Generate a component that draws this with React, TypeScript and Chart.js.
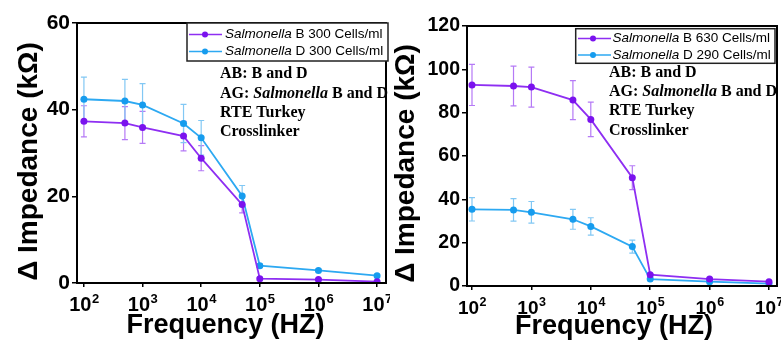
import { useEffect, useRef } from 'react';
import { Chart, registerables } from 'chart.js';
Chart.register(...registerables);

// ---------- data ----------
const frequencies = [100, 500, 1000, 5000, 10000, 50000, 100000, 1000000, 10000000];
const decadeExponents = [2, 3, 4, 5, 6, 7];

const leftYTicksMax = 60;
const leftB = [37.3, 36.9, 35.9, 33.9, 28.8, 18.1, 1.0, 0.8, 0.3];
const leftBErr = [3.6, 3.8, 3.7, 3.4, 2.9, 1.9, 0.3, 0.2, 0.2];
const leftD = [42.4, 42.0, 41.1, 36.8, 33.5, 20.1, 4.0, 2.9, 1.7];
const leftDErr = [5.1, 5.0, 4.9, 4.4, 4.0, 2.4, 0.4, 0.3, 0.3];
const leftLegend = [
  ['Salmonella', ' B 300 Cells/ml'],
  ['Salmonella', ' D 300 Cells/ml'],
];

const rightYTicksMax = 120;
const rightB = [92.8, 92.3, 91.8, 85.8, 76.9, 50.0, 5.2, 3.2, 2.0];
const rightBErr = [9.5, 9.2, 9.2, 9.0, 8.0, 5.5, 0.5, 0.4, 0.3];
const rightD = [35.4, 35.1, 34.0, 30.8, 27.5, 18.2, 3.2, 2.0, 1.1];
const rightDErr = [5.4, 5.2, 5.0, 4.6, 4.0, 3.0, 0.5, 0.3, 0.2];
const rightLegend = [
  ['Salmonella', ' B 630 Cells/ml'],
  ['Salmonella', ' D 290 Cells/ml'],
];

const noteLines = [
  [{ t: 'AB: B and D', i: false }],
  [{ t: 'AG: ', i: false }, { t: 'Salmonella', i: true }, { t: ' B and D', i: false }],
  [{ t: 'RTE Turkey', i: false }],
  [{ t: 'Crosslinker', i: false }],
];

const yTitleText = 'Δ Impedance (kΩ)';
const xTitleText = 'Frequency (HZ)';

// ---------- styles ----------
const purpleLine = '#8E2EF2';
const purplePoint = '#7A12EE';
const purpleErr = '#B57AF6';
const cyanLine = '#2DA9F2';
const cyanPoint = '#169CEE';
const cyanErr = '#82C8F4';
const SANS = '"Liberation Sans", Arial, sans-serif';
const SERIF = '"Liberation Serif", "Times New Roman", serif';

type Geo = {
  width: number;
  top: number;
  rightPad: number;
  yWidth: number;
  xHeight: number;
  xMin: number;
  xMax: number;
  yTickFont: number;
  xTickFont: number;
  supFont: number;
  xTickBase: number;
  supRaise: number;
  xTitleX: number;
  xTitleBase: number;
  yTitleX: number;
  yTitleY: number;
  legBox: [number, number, number, number];
  legRows: number[];
  legLine: [number, number, number];
  legText: number;
  noteX: number;
  noteRows: number[];
};

const leftGeo: Geo = {
  width: 390, top: 23, rightPad: 1, yWidth: 77, xHeight: 58,
  xMin: 76.2, xMax: 1.42e7, yTickFont: 21, xTickFont: 20, supFont: 13,
  xTickBase: 311, supRaise: 8, xTitleX: 225.5, xTitleBase: 333,
  yTitleX: 29.5, yTitleY: 161.5,
  legBox: [187, 23, 201, 38], legRows: [34.5, 51.5], legLine: [189, 205, 222], legText: 225,
  noteX: 220, noteRows: [74, 93.5, 112.7, 131.7],
};
const rightGeo: Geo = {
  width: 391, top: 26, rightPad: 4, yWidth: 77, xHeight: 55,
  xMin: 82.4, xMax: 1.364e7, yTickFont: 19.5, xTickFont: 19, supFont: 12.5,
  xTickBase: 314, supRaise: 8, xTitleX: 224, xTitleBase: 334,
  yTitleX: 16.5, yTitleY: 163.5,
  legBox: [185.7, 28.7, 199.3, 34.6], legRows: [38.5, 55], legLine: [188, 203, 221], legText: 222.5,
  noteX: 219, noteRows: [72.7, 92, 111, 131],
};

function Panel(props: {
  geo: Geo; yMax: number; b: number[]; bErr: number[]; d: number[]; dErr: number[]; legend: string[][];
}) {
  const ref = useRef<HTMLCanvasElement>(null);
  useEffect(() => {
    const { geo, yMax, b, bErr, d, dErr, legend } = props;
    const errs = [bErr, dErr];
    const errColors = [purpleErr, cyanErr];

    const plugin = {
      id: 'custom',
      beforeDatasetsDraw(chart: any) {
        const ctx = chart.ctx;
        const xs = chart.scales.x;
        const ys = chart.scales.y;
        ctx.save();
        chart.data.datasets.forEach((ds: any, i: number) => {
          ctx.strokeStyle = errColors[i];
          ctx.lineWidth = 1.2;
          ds.data.forEach((p: any, j: number) => {
            const e = errs[i][j];
            const x = xs.getPixelForValue(p.x);
            const y1 = ys.getPixelForValue(p.y + e);
            const y2 = ys.getPixelForValue(Math.max(0, p.y - e));
            ctx.beginPath();
            ctx.moveTo(x, y1); ctx.lineTo(x, y2);
            ctx.moveTo(x - 3, y1); ctx.lineTo(x + 3, y1);
            ctx.moveTo(x - 3, y2); ctx.lineTo(x + 3, y2);
            ctx.stroke();
          });
        });
        ctx.restore();
      },
      afterDraw(chart: any) {
        const ctx = chart.ctx;
        const a = chart.chartArea;
        const xs = chart.scales.x;
        ctx.save();
        // frame
        ctx.strokeStyle = '#000';
        ctx.lineWidth = 2;
        ctx.strokeRect(a.left, a.top, a.right - a.left, a.bottom - a.top);

        // x tick labels 10^n
        ctx.fillStyle = '#000';
        ctx.textBaseline = 'alphabetic';
        ctx.textAlign = 'left';
        xs.ticks.forEach((t: any) => {
          const px = xs.getPixelForValue(t.value);
          const exp = String(Math.round(Math.log10(t.value)));
          ctx.font = `bold ${geo.xTickFont}px ${SANS}`;
          const w1 = ctx.measureText('10').width;
          ctx.font = `bold ${geo.supFont}px ${SANS}`;
          const w2 = ctx.measureText(exp).width;
          const sx = px - (w1 + w2) / 2;
          ctx.font = `bold ${geo.xTickFont}px ${SANS}`;
          ctx.fillText('10', sx, geo.xTickBase);
          ctx.font = `bold ${geo.supFont}px ${SANS}`;
          ctx.fillText(exp, sx + w1 + 0.5, geo.xTickBase - geo.supRaise);
        });

        // axis titles
        ctx.textAlign = 'center';
        ctx.font = `bold 27px ${SANS}`;
        ctx.fillText(xTitleText, geo.xTitleX, geo.xTitleBase);
        ctx.save();
        ctx.translate(geo.yTitleX, geo.yTitleY);
        ctx.rotate(-Math.PI / 2);
        ctx.textBaseline = 'middle';
        ctx.font = `bold 28px ${SANS}`;
        ctx.fillText(yTitleText, 0, 0);
        ctx.restore();

        // legend
        const [lx, ly, lw, lh] = geo.legBox;
        ctx.fillStyle = '#fff';
        ctx.fillRect(lx, ly, lw, lh);
        ctx.strokeStyle = '#222';
        ctx.lineWidth = 1.5;
        ctx.strokeRect(lx, ly, lw, lh);
        const cols = [[purpleLine, purplePoint], [cyanLine, cyanPoint]];
        legend.forEach((parts, i) => {
          const ry = geo.legRows[i];
          ctx.strokeStyle = cols[i][0];
          ctx.lineWidth = 1.6;
          ctx.beginPath();
          ctx.moveTo(geo.legLine[0], ry); ctx.lineTo(geo.legLine[2], ry);
          ctx.stroke();
          ctx.fillStyle = cols[i][1];
          ctx.beginPath();
          ctx.arc(geo.legLine[1], ry, 3, 0, Math.PI * 2);
          ctx.fill();
          ctx.fillStyle = '#000';
          ctx.textAlign = 'left';
          ctx.textBaseline = 'middle';
          ctx.font = `italic 13.5px ${SANS}`;
          ctx.fillText(parts[0], geo.legText, ry);
          const w = ctx.measureText(parts[0]).width;
          ctx.font = `13.5px ${SANS}`;
          ctx.fillText(parts[1], geo.legText + w, ry);
        });

        // notes
        ctx.fillStyle = '#000';
        ctx.textBaseline = 'middle';
        ctx.textAlign = 'left';
        noteLines.forEach((segs, i) => {
          let x = geo.noteX;
          segs.forEach((s) => {
            ctx.font = `${s.i ? 'italic ' : ''}bold 16px ${SERIF}`;
            ctx.fillText(s.t, x, geo.noteRows[i]);
            x += ctx.measureText(s.t).width;
          });
        });
        ctx.restore();
      },
    };

    const chart = new Chart(ref.current as HTMLCanvasElement, {
      type: 'line',
      data: {
        datasets: [
          {
            data: frequencies.map((f, i) => ({ x: f, y: b[i] })),
            borderColor: purpleLine,
            backgroundColor: purplePoint,
            pointBackgroundColor: purplePoint,
            pointBorderWidth: 0,
            pointRadius: 3.5,
            borderWidth: 1.8,
            tension: 0,
          },
          {
            data: frequencies.map((f, i) => ({ x: f, y: d[i] })),
            borderColor: cyanLine,
            backgroundColor: cyanPoint,
            pointBackgroundColor: cyanPoint,
            pointBorderWidth: 0,
            pointRadius: 3.5,
            borderWidth: 1.8,
            tension: 0,
          },
        ],
      },
      options: {
        animation: false,
        responsive: false,
        maintainAspectRatio: false,
        layout: { padding: { top: geo.top, right: geo.rightPad, left: 0, bottom: 0 } },
        plugins: { legend: { display: false }, tooltip: { enabled: false } },
        scales: {
          x: {
            type: 'logarithmic',
            min: geo.xMin,
            max: geo.xMax,
            afterBuildTicks: (s: any) => {
              s.ticks = decadeExponents.map((e) => ({ value: Math.pow(10, e) }));
            },
            afterFit: (s: any) => {
              s.height = geo.xHeight;
            },
            ticks: { callback: () => '', autoSkip: false },
            grid: { drawOnChartArea: false, drawTicks: true, tickLength: 4, color: '#000', lineWidth: 1.5 },
            border: { display: true, color: '#000', width: 2 },
          },
          y: {
            min: 0,
            max: yMax,
            afterFit: (s: any) => {
              s.width = geo.yWidth;
            },
            ticks: {
              stepSize: 20,
              color: '#000',
              padding: 2,
              font: { family: SANS, size: geo.yTickFont, weight: 'bold' },
            },
            grid: { drawOnChartArea: false, drawTicks: true, tickLength: 5, color: '#000', lineWidth: 1.5 },
            border: { display: true, color: '#000', width: 2 },
          },
        },
      } as any,
      plugins: [plugin],
    });
    return () => chart.destroy();
  }, []);
  return (
    <canvas
      ref={ref}
      width={props.geo.width}
      height={341}
      style={{ display: 'block', width: props.geo.width, height: 341 }}
    />
  );
}

export default function App() {
  return (
    <div style={{ position: 'absolute', left: 0, top: 0, width: 781, height: 341, background: '#fff', display: 'flex' }}>
      <Panel geo={leftGeo} yMax={leftYTicksMax} b={leftB} bErr={leftBErr} d={leftD} dErr={leftDErr} legend={leftLegend} />
      <Panel geo={rightGeo} yMax={rightYTicksMax} b={rightB} bErr={rightBErr} d={rightD} dErr={rightDErr} legend={rightLegend} />
    </div>
  );
}
